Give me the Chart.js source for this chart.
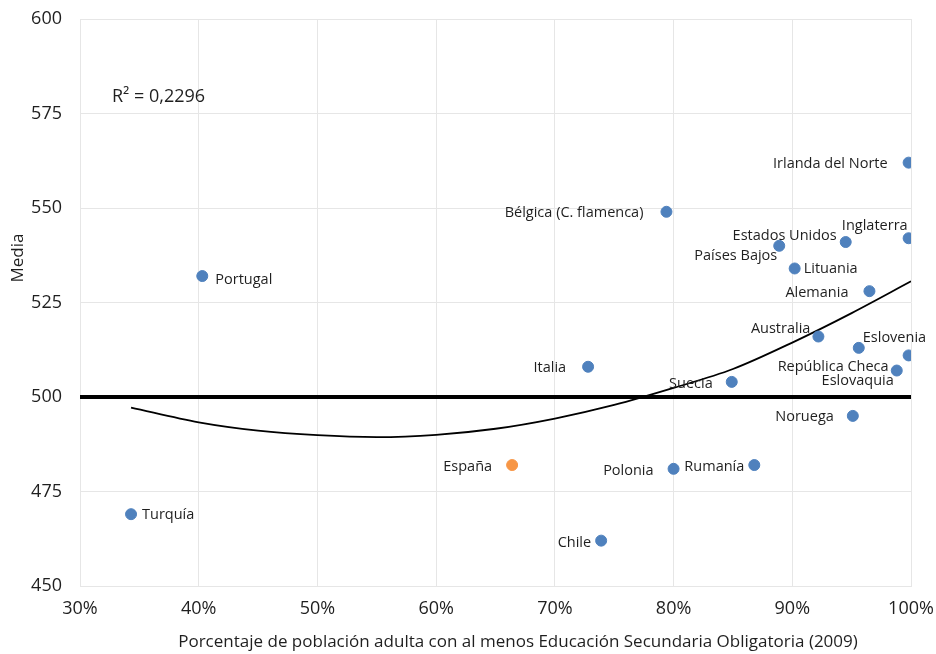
<!DOCTYPE html>
<html lang="es">
<head>
    <meta charset="UTF-8">
    <title>Media frente a porcentaje de población adulta</title>
    <script src="https://cdn.jsdelivr.net/npm/chart.js"></script>
    <style>
        body { margin: 0; background: #fff; }
        #wrap { width: 936px; height: 654px; }
    </style>
</head>
<body>
    <div id="wrap"><canvas id="myChart" width="936" height="654"></canvas></div>

    <script>
        // datos
        const countries = ['Turquía', 'Portugal', 'España', 'Italia', 'Chile', 'Bélgica (C. flamenca)', 'Polonia',
            'Suecia', 'Rumanía', 'Países Bajos', 'Lituania', 'Australia', 'Estados Unidos', 'Noruega',
            'Eslovenia', 'Alemania', 'Eslovaquia', 'Irlanda del Norte', 'Inglaterra', 'República Checa'];
        const pctAdults = [34.3, 40.3, 66.4, 72.8, 73.9, 79.4, 80.0,
            84.9, 86.8, 88.9, 90.2, 92.2, 94.5, 95.1,
            95.6, 96.5, 98.8, 99.8, 99.8, 99.8];
        const meanScores = [469, 532, 482, 508, 462, 549, 481,
            504, 482, 540, 534, 516, 541, 495,
            513, 528, 507, 562, 542, 511];
        const highlighted = 'España';

        // linea de tendencia (polinomica) leida punto a punto
        const trendX = [34.3, 40, 45, 50, 55, 60, 65, 70, 75, 80, 85, 90, 95, 100];
        const trendY = [497.2, 493.3, 491.1, 489.9, 489.4, 490.0, 491.6, 494.3, 497.9, 502.4, 507.4, 514.4, 522.2, 530.6];
        const rSquared = 'R² = 0,2296';

        const refLevel = 500;
        const xTicks = [30, 40, 50, 60, 70, 80, 90, 100];
        const yTicks = [450, 475, 500, 525, 550, 575, 600];

        // posicion de las etiquetas (desplazamiento en px respecto al punto)
        const labelPos = {
            'Turquía': [11, 1, 'left'],
            'Portugal': [13, 4, 'left'],
            'España': [-20, 2, 'right'],
            'Italia': [-22, 1, 'right'],
            'Chile': [-10, 2, 'right'],
            'Bélgica (C. flamenca)': [-23, 1, 'right'],
            'Polonia': [-20, 2, 'right'],
            'Suecia': [-19, 2, 'right'],
            'Rumanía': [-10, 2, 'right'],
            'Países Bajos': [-2, 10, 'right'],
            'Lituania': [9, 0, 'left'],
            'Australia': [-8, -8, 'right'],
            'Estados Unidos': [-9, -6, 'right'],
            'Noruega': [-19, 1, 'right'],
            'Eslovenia': [4, -10, 'left'],
            'Alemania': [-21, 2, 'right'],
            'Eslovaquia': [-3, 10, 'right'],
            'Irlanda del Norte': [-21, 1, 'right'],
            'Inglaterra': [-1, -12, 'right'],
            'República Checa': [-20, 11, 'right']
        };

        const FONT = "'Open Sans', sans-serif";
        const TEXT = '#1f1f1f';
        const BLUE = '#4F81BD';
        const ORANGE = '#F79646';

        const bluePts = [], orangePts = [];
        countries.forEach((c, i) => {
            const p = { x: pctAdults[i], y: meanScores[i], name: c };
            (c === highlighted ? orangePts : bluePts).push(p);
        });

        const labelsPlugin = {
            id: 'extraText',
            afterDatasetsDraw(chart) {
                const ctx = chart.ctx;
                ctx.save();
                ctx.fillStyle = TEXT;
                ctx.textBaseline = 'middle';
                ctx.font = '14.5px ' + FONT;
                [0, 1].forEach(di => {
                    const meta = chart.getDatasetMeta(di);
                    meta.data.forEach((el, j) => {
                        const name = chart.data.datasets[di].data[j].name;
                        const pos = labelPos[name] || [8, 0, 'left'];
                        ctx.textAlign = pos[2];
                        ctx.fillText(name, el.x + pos[0], el.y + pos[1]);
                    });
                });

                ctx.font = '18px ' + FONT;
                ctx.textAlign = 'left';
                ctx.fillText(rSquared, 112, 97);

                ctx.font = '17px ' + FONT;
                ctx.textAlign = 'center';
                ctx.fillText('Porcentaje de población adulta con al menos Educación Secundaria Obligatoria (2009)', 518, 642);

                ctx.font = '17px ' + FONT;
                ctx.translate(18, 258);
                ctx.rotate(-Math.PI / 2);
                ctx.fillText('Media', 0, 0);
                ctx.restore();
            }
        };

        const ctx = document.getElementById('myChart').getContext('2d');
        new Chart(ctx, {
            type: 'scatter',
            data: {
                datasets: [
                    {
                        label: 'Países',
                        data: bluePts,
                        backgroundColor: BLUE,
                        borderColor: BLUE,
                        pointRadius: 5.5,
                        pointHoverRadius: 5.5
                    },
                    {
                        label: highlighted,
                        data: orangePts,
                        backgroundColor: ORANGE,
                        borderColor: ORANGE,
                        pointRadius: 5.5,
                        pointHoverRadius: 5.5
                    },
                    {
                        label: 'Tendencia',
                        type: 'line',
                        data: trendX.map((x, i) => ({ x: x, y: trendY[i] })),
                        borderColor: '#000',
                        borderWidth: 1.8,
                        pointRadius: 0,
                        cubicInterpolationMode: 'monotone',
                        fill: false
                    },
                    {
                        label: 'Referencia',
                        type: 'line',
                        data: [{ x: xTicks[0], y: refLevel }, { x: xTicks[xTicks.length - 1], y: refLevel }],
                        borderColor: '#000',
                        borderWidth: 4,
                        pointRadius: 0,
                        fill: false
                    }
                ]
            },
            options: {
                responsive: false,
                animation: false,
                layout: { padding: { top: 19, right: 25, left: 0, bottom: 0 } },
                plugins: {
                    legend: { display: false },
                    tooltip: { enabled: false }
                },
                scales: {
                    x: {
                        type: 'linear',
                        min: xTicks[0],
                        max: xTicks[xTicks.length - 1],
                        afterBuildTicks: s => { s.ticks = xTicks.map(v => ({ value: v })); },
                        afterFit: s => {
                            s.height = 68;
                            s.paddingLeft = 0;
                            s.paddingRight = 0;
                        },
                        grid: { color: '#e6e6e6', drawTicks: false },
                        border: { color: '#e6e6e6' },
                        ticks: {
                            padding: 12,
                            color: TEXT,
                            font: { family: FONT, size: 18 },
                            callback: v => v + '%'
                        }
                    },
                    y: {
                        min: yTicks[0],
                        max: yTicks[yTicks.length - 1],
                        afterBuildTicks: s => { s.ticks = yTicks.map(v => ({ value: v })); },
                        afterFit: s => {
                            s.width = 80;
                            s.paddingTop = 0;
                            s.paddingBottom = 0;
                        },
                        grid: { color: '#e6e6e6', drawTicks: false },
                        border: { color: '#e6e6e6' },
                        ticks: {
                            padding: 18,
                            color: TEXT,
                            font: { family: FONT, size: 18 }
                        }
                    }
                }
            },
            plugins: [labelsPlugin]
        });
    </script>
</body>
</html>
